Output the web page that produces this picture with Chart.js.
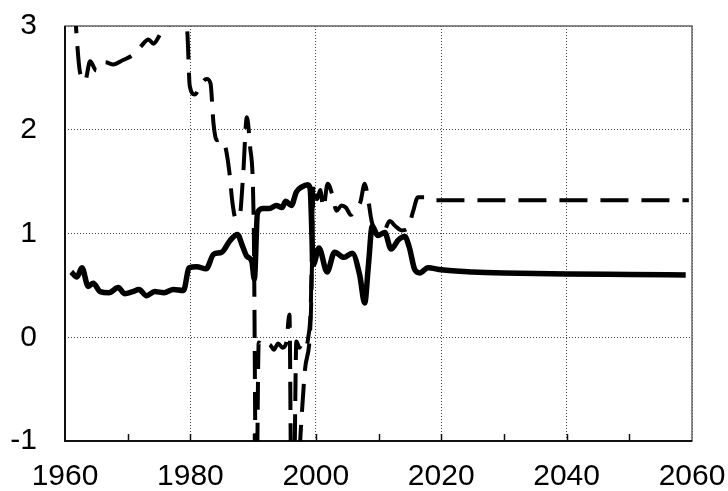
<!DOCTYPE html>
<html>
<head>
<meta charset="utf-8">
<script src="https://cdn.jsdelivr.net/npm/chart.js@4.4.1/dist/chart.umd.min.js"></script>
<style>
  html, body { margin: 0; padding: 0; background: #fff; }
  #wrap { width: 728px; height: 491px; position: relative; }
</style>
</head>
<body>
<div id="wrap"><canvas id="chart"></canvas></div>
<script>
// solid series
const solidYears = [1961.0, 1961.9, 1962.7, 1963.7, 1964.5, 1965.6, 1967.0, 1968.5, 1969.5, 1970.8,
  1971.8, 1973.0, 1974.3, 1975.8, 1977.3, 1978.9, 1979.8, 1981.0, 1982.5, 1983.7,
  1985.0, 1986.3, 1987.5, 1988.3, 1989.0, 1989.8, 1990.2, 1990.7, 1991.6, 1992.6,
  1993.7, 1994.6, 1995.2, 1996.1, 1996.9, 1997.8, 1998.7, 1999.1, 1999.6, 2000.5,
  2001.8, 2003.0, 2004.5, 2005.8, 2007.0, 2007.8, 2008.4, 2009.0, 2009.9, 2011.0,
  2012.0, 2013.2, 2014.2, 2014.9, 2015.8, 2016.6, 2017.9, 2020.0, 2025.0, 2030.0,
  2040.0, 2050.0, 2059.0];
const solidValues = [0.63, 0.58, 0.67, 0.49, 0.52, 0.44, 0.43, 0.48, 0.42, 0.44,
  0.46, 0.40, 0.44, 0.43, 0.46, 0.45, 0.67, 0.68, 0.66, 0.80,
  0.82, 0.93, 0.99, 0.88, 0.78, 0.73, 0.56, 1.20, 1.24, 1.24,
  1.27, 1.25, 1.31, 1.27, 1.40, 1.45, 1.47, 1.43, 0.70, 0.86,
  0.63, 0.82, 0.77, 0.81, 0.60, 0.33, 0.70, 1.07, 0.98, 1.01,
  0.85, 0.94, 0.97, 0.87, 0.65, 0.62, 0.67, 0.65, 0.63, 0.62,
  0.61, 0.605, 0.60];

// dashed series
const dashYears = [1961.5, 1962.4, 1963.2, 1964.0, 1965.0, 1966.4, 1967.7, 1969.2, 1970.8, 1972.2,
  1973.3, 1974.1, 1975.3, 1976.4, 1977.6, 1978.8, 1979.5, 1979.9, 1980.7, 1981.6,
  1982.6, 1983.2, 1983.7, 1984.2, 1985.0, 1985.6, 1986.2, 1986.7, 1987.2, 1987.8,
  1988.4, 1989.0, 1989.5, 1990.1, 1990.5, 1990.9, 1991.7, 1992.6, 1993.3, 1994.0,
  1994.7, 1995.3, 1995.8, 1996.1, 1996.5, 1996.9, 1997.4, 1997.9, 1998.4, 1998.8,
  1999.2, 1999.6, 2000.2, 2000.7, 2001.2, 2001.9, 2002.6, 2003.3, 2004.1, 2004.8,
  2005.6, 2006.4, 2007.1, 2007.8, 2008.3, 2008.9, 2009.7, 2010.8, 2011.8, 2012.7,
  2013.7, 2014.7, 2015.5, 2016.3, 2017.5, 2018.8, 2059.5];
const dashValues = [3.2, 2.55, 2.47, 2.66, 2.57, 2.65, 2.63, 2.67, 2.72, 2.81,
  2.87, 2.83, 2.93, 3.0, 3.12, 3.12, 2.95, 2.42, 2.34, 2.43,
  2.49, 2.45, 2.05, 1.90, 1.91, 1.83, 1.60, 1.30, 1.15, 1.15,
  1.55, 2.12, 1.85, 1.10, -1.8, -0.05, -0.10, -0.07, -0.12, -0.06,
  -0.10, -0.05, 0.22, -1.5, -1.5, -0.04, -0.10, -0.05, -0.09, 0.0,
  0.30, 1.45, 1.33, 1.42, 1.25, 1.48, 1.38, 1.22, 1.27, 1.25,
  1.18, 1.24, 1.30, 1.48, 1.35, 1.12, 1.02, 1.02, 1.12, 1.07,
  1.03, 1.05, 1.21, 1.35, 1.35, 1.32, 1.32];

// second dashed stroke through the late-1990s dip
const branchYears = [1996.5, 1997.1, 1997.6, 1998.3, 1999.2, 1999.6];
const branchValues = [-1.5, -1.4, -0.9, -0.3, 0.2, 1.45];

const xTicks = [1960, 1980, 2000, 2020, 2040, 2060];
const yTicks = [-1, 0, 1, 2, 3];

const toPoints = (xs, ys) => xs.map((x, i) => ({ x, y: ys[i] }));

const DASH = [28, 13];
const FONT = { family: '"Liberation Sans", Arial, Helvetica, sans-serif', size: 30 };

// keep the plot box fixed; labels may hang into the margins
function fixBox(s) {
  s.paddingTop = 0; s.paddingBottom = 0; s.paddingLeft = 0; s.paddingRight = 0;
}

// frame around the plot plus short inward ticks every 10 years
const framePlugin = {
  id: 'frame',
  beforeDatasetsDraw(chart) {
    const { ctx, chartArea: a, scales } = chart;
    ctx.save();
    ctx.strokeStyle = '#666';
    ctx.lineWidth = 1.5;
    ctx.strokeRect(a.left, a.top, a.right - a.left, a.bottom - a.top);
    ctx.strokeStyle = '#111';
    ctx.lineWidth = 2;
    ctx.beginPath();
    ctx.moveTo(a.left, a.top);
    ctx.lineTo(a.left, a.bottom);
    ctx.lineTo(a.right, a.bottom);
    ctx.stroke();
    ctx.lineWidth = 1.5;
    ctx.beginPath();
    for (let yr = 1970; yr < 2060; yr += 10) {
      const px = Math.round(scales.x.getPixelForValue(yr)) + 0.5;
      ctx.moveTo(px, a.bottom);
      ctx.lineTo(px, a.bottom - 7);
    }
    ctx.stroke();
    ctx.restore();
  }
};

new Chart(document.getElementById('chart'), {
  type: 'line',
  data: {
    datasets: [
      {
        data: toPoints(solidYears, solidValues),
        borderColor: '#000', borderWidth: 5.5,
        cubicInterpolationMode: 'monotone', pointRadius: 0, clip: 0
      },
      {
        data: toPoints(dashYears, dashValues),
        borderColor: '#000', borderWidth: 4, borderDash: DASH,
        cubicInterpolationMode: 'monotone', pointRadius: 0, clip: 0
      },
      {
        data: toPoints(branchYears, branchValues),
        borderColor: '#000', borderWidth: 4, borderDash: DASH,
        cubicInterpolationMode: 'monotone', pointRadius: 0, clip: 0
      }
    ]
  },
  options: {
    responsive: true,
    maintainAspectRatio: false,
    animation: false,
    events: [],
    layout: { padding: { top: 26, right: 36, left: 0, bottom: 0 } },
    plugins: { legend: { display: false }, tooltip: { enabled: false } },
    scales: {
      x: {
        type: 'linear', min: 1960, max: 2060,
        afterFit(s) { s.height = 50; fixBox(s); },
        afterBuildTicks(s) { s.ticks = xTicks.map(v => ({ value: v })); },
        ticks: { color: '#000', font: FONT, padding: 18, maxRotation: 0, autoSkip: false,
                 callback: v => String(v) },
        grid: { color: '#444', lineWidth: 1, drawTicks: false },
        border: { display: false, dash: [1, 2] }
      },
      y: {
        type: 'linear', min: -1, max: 3,
        afterFit(s) { s.width = 65; fixBox(s); },
        afterBuildTicks(s) { s.ticks = yTicks.map(v => ({ value: v })); },
        ticks: { color: '#000', font: FONT, padding: 28, callback: v => String(v) },
        grid: { color: '#444', lineWidth: 1, drawTicks: false },
        border: { display: false, dash: [1, 2] }
      }
    }
  },
  plugins: [framePlugin]
});
</script>
</body>
</html>
